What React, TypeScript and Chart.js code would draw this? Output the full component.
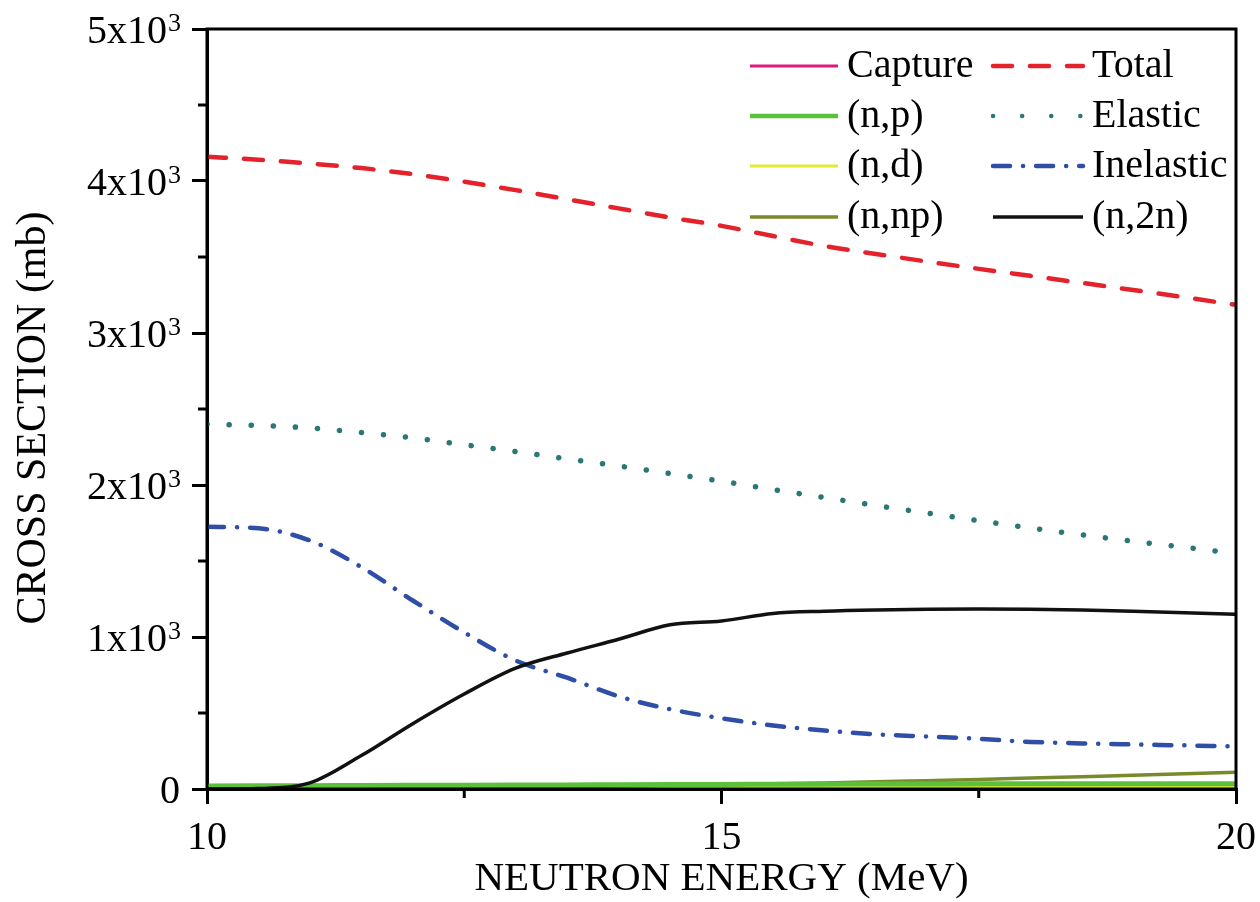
import React, { useEffect, useRef } from 'react';
import { Chart, registerables } from 'chart.js';

Chart.register(...registerables);

const energies = [10, 10.5, 11, 11.5, 12, 12.5, 13, 13.5, 14, 14.5, 15, 15.5, 16, 16.5, 17, 17.5, 18, 18.5, 19, 19.5, 20];
const totalXS = [4160, 4140, 4115, 4085, 4045, 3995, 3940, 3880, 3820, 3760, 3705, 3638, 3572, 3520, 3470, 3422, 3376, 3330, 3283, 3235, 3185];
const elasticXS = [2400, 2392, 2375, 2345, 2310, 2265, 2220, 2172, 2125, 2075, 2025, 1970, 1918, 1865, 1815, 1765, 1718, 1672, 1630, 1590, 1550];
const inelasticXS = [1725, 1715, 1635, 1460, 1240, 1030, 845, 732, 610, 525, 465, 418, 385, 360, 345, 330, 310, 300, 293, 287, 280];
const n2nXS = [0, 3, 40, 220, 430, 625, 795, 895, 985, 1080, 1105, 1155, 1170, 1178, 1182, 1184, 1182, 1178, 1170, 1160, 1150];
const npXS = [20, 21, 22, 23, 24, 25, 26, 27, 28, 29, 30, 31, 32, 33, 33, 34, 34, 35, 35, 35, 35];
const nnpXS = [8, 9, 10, 11, 12, 13, 15, 17, 20, 24, 28, 34, 40, 47, 55, 63, 72, 81, 90, 100, 110];
const ndXS = [3, 3, 4, 4, 5, 5, 6, 6, 7, 7, 8, 8, 9, 9, 10, 10, 11, 12, 12, 13, 14];
const captureXS = [3, 3, 3, 3, 2, 2, 2, 2, 2, 2, 2, 2, 2, 2, 1, 1, 1, 1, 1, 1, 1];

const yTicks = [0, 1000, 2000, 3000, 4000, 5000];
const yTickMantissa = ['0', '1x10', '2x10', '3x10', '4x10', '5x10'];
const yTickExponent = ['', '3', '3', '3', '3', '3'];
const xTicks = [10, 15, 20];
const xTickLabels = ['10', '15', '20'];
const xMinorTicks = [12.5, 17.5];
const yMinorTicks = [500, 1500, 2500, 3500, 4500];

const xTitle = 'NEUTRON ENERGY (MeV)';
const yTitle = 'CROSS SECTION (mb)';

const FONT = "'Liberation Serif', 'Times New Roman', serif";

const pts = (ys: number[]) => energies.map((x, i) => ({ x, y: ys[i] }));

// legend layout: [datasetLabel, column, row]
const legendLayout: [string, number, number][] = [
  ['Capture', 0, 0],
  ['(n,p)', 0, 1],
  ['(n,d)', 0, 2],
  ['(n,np)', 0, 3],
  ['Total', 1, 0],
  ['Elastic', 1, 1],
  ['Inelastic', 1, 2],
  ['(n,2n)', 1, 3],
];

const framePlugin = {
  id: 'frameAndExtras',
  afterDraw(chart: any) {
    const { ctx, chartArea } = chart;
    const xs = chart.scales.x;
    const ys = chart.scales.y;
    ctx.save();
    // frame
    ctx.strokeStyle = '#000';
    ctx.lineWidth = 3;
    ctx.setLineDash([]);
    ctx.strokeRect(chartArea.left, chartArea.top, chartArea.right - chartArea.left, chartArea.bottom - chartArea.top);
    // minor ticks
    xMinorTicks.forEach((v) => {
      const px = xs.getPixelForValue(v);
      ctx.beginPath();
      ctx.moveTo(px, chartArea.bottom);
      ctx.lineTo(px, chartArea.bottom + 9);
      ctx.stroke();
    });
    yMinorTicks.forEach((v) => {
      const py = ys.getPixelForValue(v);
      ctx.beginPath();
      ctx.moveTo(chartArea.left, py);
      ctx.lineTo(chartArea.left - 9, py);
      ctx.stroke();
    });
    // x tick labels
    ctx.fillStyle = '#000';
    ctx.textBaseline = 'alphabetic';
    ctx.font = `40px ${FONT}`;
    ctx.textAlign = 'center';
    xTicks.forEach((v, i) => {
      ctx.fillText(xTickLabels[i], xs.getPixelForValue(v), chartArea.bottom + 60);
    });
    // y tick labels with superscript exponent
    yTicks.forEach((v, i) => {
      const py = ys.getPixelForValue(v);
      if (!yTickExponent[i]) {
        ctx.font = `40px ${FONT}`;
        ctx.textAlign = 'right';
        ctx.fillText(yTickMantissa[i], 180, py + 14);
        return;
      }
      ctx.font = `40px ${FONT}`;
      ctx.textAlign = 'right';
      ctx.fillText(yTickMantissa[i], 167, py + 14);
      ctx.font = `26px ${FONT}`;
      ctx.textAlign = 'left';
      ctx.fillText(yTickExponent[i], 168, py + 2);
    });
    // titles
    ctx.font = `41px ${FONT}`;
    ctx.textAlign = 'center';
    ctx.textBaseline = 'middle';
    ctx.fillText(xTitle, (chartArea.left + chartArea.right) / 2, 879);
    ctx.save();
    ctx.translate(34, 418);
    ctx.rotate(-Math.PI / 2);
    ctx.font = `42px ${FONT}`;
    ctx.fillText(yTitle, 0, 0);
    ctx.restore();
    // legend
    const colLine = [[750, 838], [993, 1083]];
    const rowY = [66, 116, 166, 217];
    ctx.font = `40px ${FONT}`;
    ctx.textAlign = 'left';
    legendLayout.forEach(([label, col, row]) => {
      const ds = chart.data.datasets.find((d: any) => d.label === label);
      if (!ds) return;
      const y = rowY[row];
      const [x0, x1] = colLine[col];
      ctx.save();
      ctx.strokeStyle = ds.borderColor;
      ctx.lineWidth = Math.min(ds.borderWidth, 4.5);
      ctx.lineCap = ds.borderCapStyle || 'butt';
      ctx.setLineDash(ds.legendDash || ds.borderDash || []);
      ctx.beginPath();
      ctx.moveTo(x0, y);
      ctx.lineTo(x1, y);
      ctx.stroke();
      ctx.restore();
      ctx.fillStyle = '#000';
      ctx.fillText(label, x1 + 9, y);
    });
    ctx.restore();
  },
};

export default function App() {
  const ref = useRef<HTMLCanvasElement>(null);
  useEffect(() => {
    document.body.style.margin = '0';
    const canvas = ref.current;
    if (!canvas) return;
    const line = (label: string, data: number[], color: string, width: number, dash: number[] = [], cap = 'butt', legendDash?: number[]) => ({
      label,
      data: pts(data),
      borderColor: color,
      backgroundColor: color,
      borderWidth: width,
      borderDash: dash,
      borderCapStyle: cap,
      legendDash,
      pointRadius: 0,
      fill: false,
      cubicInterpolationMode: 'monotone',
      showLine: true,
    });
    const chart = new Chart(canvas, {
      type: 'scatter',
      data: {
        datasets: [
          line('(n,2n)', n2nXS, '#111111', 3.5),
          line('Inelastic', inelasticXS, '#2f4ea6', 4.5, [17, 13, 0.1, 13], 'round'),
          line('Elastic', elasticXS, '#2b7775', 5.5, [0.1, 22], 'round', [0.1, 29]),
          line('Total', totalXS, '#e3222b', 4.5, [19, 18], 'round'),
          line('(n,p)', npXS, '#5cc13a', 5),
          line('(n,np)', nnpXS, '#778a2c', 3.5),
          line('(n,d)', ndXS, '#e6e635', 3),
          line('Capture', captureXS, '#e0187e', 3),
        ] as any,
      },
      options: {
        animation: false,
        responsive: true,
        maintainAspectRatio: false,
        layout: { padding: { top: 29, right: 24, left: 0, bottom: 0 } },
        plugins: { legend: { display: false }, tooltip: { enabled: false } },
        scales: {
          x: {
            type: 'linear',
            min: 10,
            max: 20,
            afterFit: (s: any) => { s.height = 113; },
            afterBuildTicks: (s: any) => { s.ticks = xTicks.map((v) => ({ value: v })); },
            ticks: { display: false },
            grid: { display: true, drawOnChartArea: false, drawTicks: true, tickLength: 15, color: '#000', lineWidth: 3 },
            border: { display: true, color: '#000', width: 3 },
          },
          y: {
            type: 'linear',
            min: 0,
            max: 5000,
            afterFit: (s: any) => { s.width = 207; },
            afterBuildTicks: (s: any) => { s.ticks = yTicks.map((v) => ({ value: v })); },
            ticks: { display: false },
            grid: { display: true, drawOnChartArea: false, drawTicks: true, tickLength: 15, color: '#000', lineWidth: 3 },
            border: { display: true, color: '#000', width: 3 },
          },
        },
      },
      plugins: [framePlugin],
    });
    return () => chart.destroy();
  }, []);
  return (
    <div style={{ width: 1260, height: 902, position: 'relative', background: '#fff' }}>
      <canvas ref={ref} />
    </div>
  );
}
